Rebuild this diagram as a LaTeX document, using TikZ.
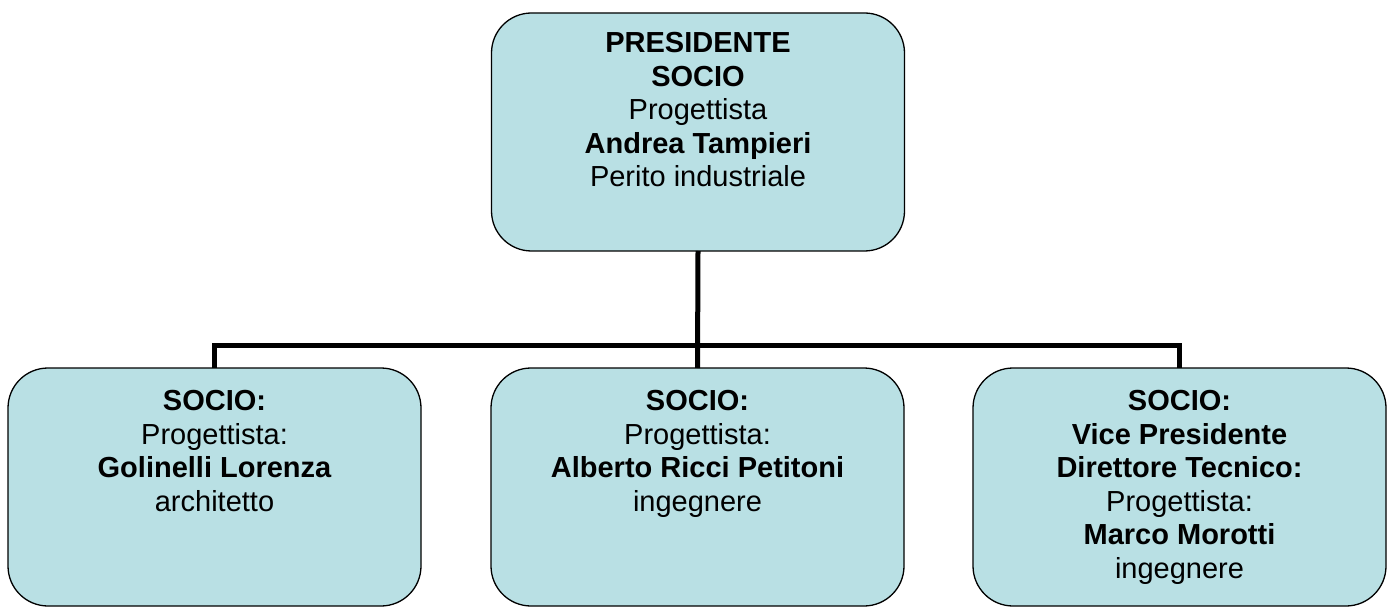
\documentclass[tikz,border=0pt]{standalone}
\usepackage{fontspec}
\setmainfont{Liberation Sans}
\usetikzlibrary{positioning}
\begin{document}
\begin{tikzpicture}[x=1pt,y=-1pt,
  orgBox/.style={draw=drawColor,fill=fillColor,line width=1.3pt,rounded corners=40pt,
    minimum width=413pt,minimum height=238pt,inner sep=0pt,outer sep=0pt},
  orgText/.style={text=drawColor,align=center,anchor=north,inner sep=0pt,outer sep=0pt,
    font=\fontsize{29}{33.5}\selectfont},
  orgLink/.style={draw=drawColor,line width=5pt,line join=miter}]
\definecolor{fillColor}{RGB}{185,224,228}
\definecolor{drawColor}{RGB}{0,0,0}
\path[use as bounding box,fill=white] (0,0) rectangle (1391,609);

\node[orgBox] (pres) at (698,132) {};
\node[orgBox] (soc1) at (214.5,487) {};
\node[orgBox] (soc2) at (697.5,487) {};
\node[orgBox] (soc3) at (1179.5,487) {};

\coordinate (bus) at (0,345);

\path[orgLink] (soc1.north) -- (soc1.north |- bus) -- (soc3.north |- bus) -- (soc3.north);
\path[orgLink] (pres.south) -- (soc2.north);

\node[orgText] (presTxt) at (698,32.7) {\bfseries PRESIDENTE\\\bfseries SOCIO\\Progettista\\\bfseries Andrea Tampieri\\Perito industriale};
\node[orgText] (soc1Txt) at (214.5,390.7) {\bfseries SOCIO:\\Progettista:\\\bfseries Golinelli Lorenza\\architetto};
\node[orgText] (soc2Txt) at (697.5,390.7) {\bfseries SOCIO:\\Progettista:\\\bfseries Alberto Ricci Petitoni\\ingegnere};
\node[orgText] (soc3Txt) at (1179.5,390.7) {\bfseries SOCIO:\\\bfseries Vice Presidente\\\bfseries Direttore Tecnico:\\Progettista:\\\bfseries Marco Morotti\\ingegnere};
\end{tikzpicture}
\end{document}
